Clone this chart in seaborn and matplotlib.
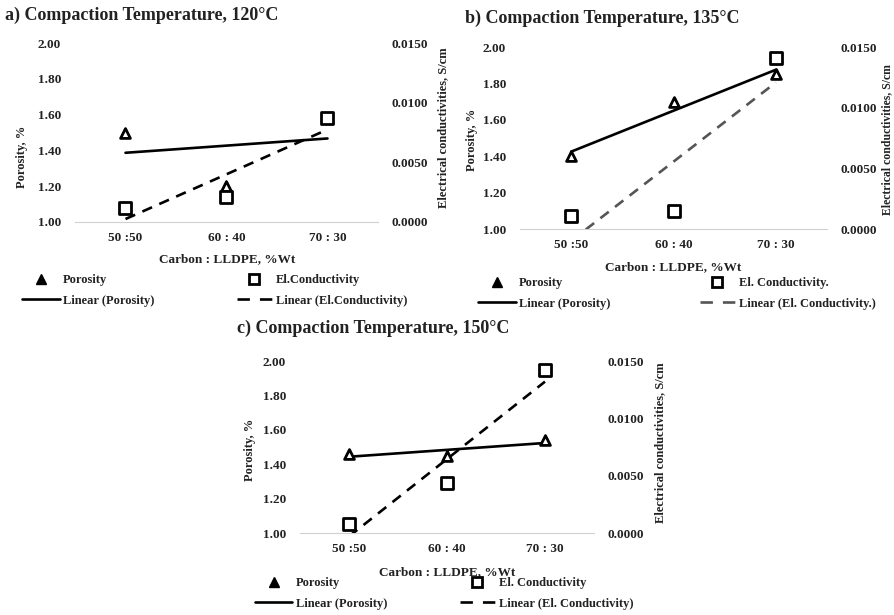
import numpy as np
import seaborn as sns
import matplotlib.pyplot as plt
from matplotlib.lines import Line2D

# Carbon : LLDPE ratio (x categories)
ratios = ['50 :50', '60 : 40', '70 : 30']
xpos = np.arange(len(ratios))

# porosity (%), left axis
porosity_120 = [1.50, 1.20, 1.58]
porosity_135 = [1.40, 1.70, 1.85]
porosity_150 = [1.46, 1.45, 1.54]

# electrical conductivity (S/cm), right axis
cond_120 = [0.0012, 0.0021, 0.0087]
cond_135 = [0.00105, 0.0015, 0.0141]
cond_150 = [0.00075, 0.00435, 0.01425]

titles = ['a) Compaction Temperature, 120°C',
          'b) Compaction Temperature, 135°C',
          'c) Compaction Temperature, 150°C']
cond_names = ['El.Conductivity', 'El. Conductivity.', 'El. Conductivity']
trend_names = ['Linear (El.Conductivity)', 'Linear (El. Conductivity.)',
               'Linear (El. Conductivity)']

sns.set_style('white')
plt.rcParams['font.family'] = ['Liberation Serif', 'DejaVu Serif']
plt.rcParams['text.color'] = '#222222'

W, H = 895, 615
fig = plt.figure(figsize=(W / 100, H / 100), dpi=100)


def px(x, y):
    return x / W, 1 - y / H


def panel(rect, por, cond, title, cname, tname, lay, dash_col='black', rsize=9):
    x0, x1, ytop, ybot = rect
    ax = fig.add_axes([x0 / W, 1 - ybot / H, (x1 - x0) / W, (ybot - ytop) / H])
    ax2 = ax.twinx()

    sns.regplot(x=xpos, y=por, ax=ax, scatter=False, ci=None,
                line_kws=dict(color='black', lw=1.9))
    sns.scatterplot(x=xpos, y=por, ax=ax, marker='^', s=50, color='white',
                    edgecolor='black', linewidth=2, zorder=5)
    sns.regplot(x=xpos, y=cond, ax=ax2, scatter=False, ci=None,
                line_kws=dict(color=dash_col, lw=1.9, dashes=(4, 3)))
    sns.scatterplot(x=xpos, y=cond, ax=ax2, marker='s', s=75, color='white',
                    edgecolor='black', linewidth=2, zorder=5)

    ax.set_xlim(-0.5, 2.5)
    ax.set_ylim(1.0, 2.0)
    ax.set_yticks([1.0, 1.2, 1.4, 1.6, 1.8, 2.0])
    ax.set_yticklabels([f'{v:.2f}' for v in [1.0, 1.2, 1.4, 1.6, 1.8, 2.0]])
    ax.set_xticks(xpos)
    ax.set_xticklabels(ratios)
    ax2.set_ylim(0, 0.015)
    ax2.set_yticks([0, 0.005, 0.010, 0.015])
    ax2.set_yticklabels([f'{v:.4f}' for v in [0, 0.005, 0.010, 0.015]])
    for a in (ax, ax2):
        for s in a.spines.values():
            s.set_visible(False)
        a.set_xlabel('')
        a.set_ylabel('')
        a.tick_params(length=0, labelsize=9.5, colors='#222222')
        for t in a.get_xticklabels() + a.get_yticklabels():
            t.set_fontweight('bold')
    ax.spines['bottom'].set_visible(True)
    ax.spines['bottom'].set_color('#d0d0d0')
    ax.tick_params(axis='y', pad=10)
    ax.tick_params(axis='x', pad=7)
    ax2.tick_params(axis='y', pad=10)

    # titles and axis labels
    tx, ty = lay['title']
    fig.text(*px(tx, ty), title, fontsize=13, fontweight='bold', va='center', ha='left')
    lx, ly = lay['ylab']
    fig.text(*px(lx, ly), 'Porosity, %', rotation=90, fontsize=9,
             fontweight='bold', ha='center', va='center')
    rx, ry = lay['rlab']
    fig.text(*px(rx, ry), 'Electrical conductivities, S/cm', rotation=90,
             fontsize=rsize, fontweight='bold', ha='center', va='center')
    xx, xy = lay['xlab']
    fig.text(*px(xx, xy), 'Carbon : LLDPE, %Wt', fontsize=9.5,
             fontweight='bold', ha='center', va='center')

    # legend, two columns placed separately
    tri = Line2D([], [], marker='^', ls='none', mfc='black', mec='black', ms=6.5)
    sq = Line2D([], [], marker='s', ls='none', mfc='white', mec='black', mew=2, ms=6.5)
    sol = Line2D([], [], color='black', lw=1.9)
    das = Line2D([], [], color=dash_col, lw=1.9, dashes=(4.7, 3.8))
    (c1x, c2x), ly0 = lay['leg']
    for hx, hs, labs, hl in [(c1x, [tri, sol], ['Porosity', 'Linear (Porosity)'], 3.0),
                             (c2x, [sq, das], [cname, tname], 2.8)]:
        fig.legend(hs, labs, loc='upper left', bbox_to_anchor=px(hx, ly0),
                   frameon=False, borderaxespad=0, borderpad=0,
                   handlelength=hl, handletextpad=0.3, labelspacing=0.7,
                   prop=dict(size=9, weight='bold'))
    return ax, ax2


panel((75, 378, 43, 222), porosity_120, cond_120, titles[0], cond_names[0], trend_names[0],
      dict(title=(5, 15), ylab=(22, 157), rlab=(443, 128), xlab=(227, 259),
           leg=((22, 237), 274)))
panel((520, 827, 47, 229), porosity_135, cond_135, titles[1], cond_names[1], trend_names[1],
      dict(title=(465, 18), ylab=(472, 140), rlab=(887, 140), xlab=(673, 267),
           leg=((478, 700), 277)), dash_col='#555555', rsize=8.5)
panel((300, 594, 361, 533), porosity_150, cond_150, titles[2], cond_names[2], trend_names[2],
      dict(title=(237, 328), ylab=(250, 450), rlab=(660, 443), xlab=(447, 572),
           leg=((255, 460), 577)))

fig.savefig('out.png', dpi=100)
